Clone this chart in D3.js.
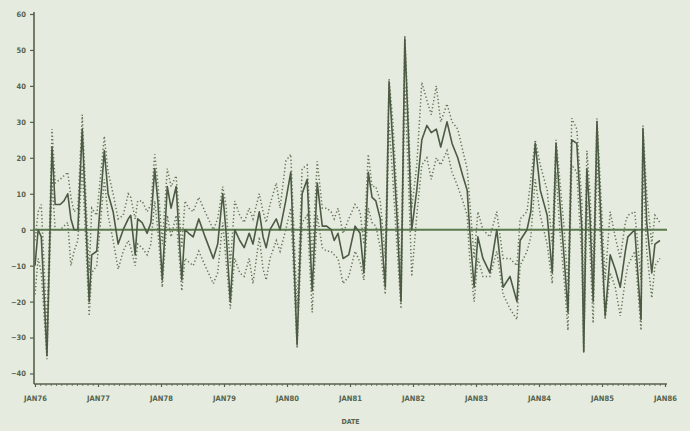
<!DOCTYPE html>
<html><head><meta charset="utf-8">
<script src="https://cdn.jsdelivr.net/npm/d3@7/dist/d3.min.js"></script>
<style>
body{margin:0;background:#e5ecdf;}
svg{display:block;}
text{font-family:"Liberation Sans Narrow","DejaVu Sans Condensed","Liberation Sans",sans-serif;font-weight:bold;fill:#56634e;}
</style></head>
<body><svg id="c" width="690" height="431"></svg>
<script>
// ---- data ----
const years = [1976.00,1976.05,1976.10,1976.19,1976.27,1976.32,1976.40,1976.46,1976.52,1976.57,1976.62,1976.68,1976.75,1976.86,1976.90,1976.98,
1977.10,1977.16,1977.24,1977.32,1977.40,1977.48,1977.52,1977.59,1977.63,1977.70,1977.78,1977.84,1977.90,1977.95,
1978.02,1978.10,1978.16,1978.24,1978.33,1978.38,1978.44,1978.51,1978.60,1978.70,1978.83,1978.90,1978.98,
1979.03,1979.10,1979.17,1979.25,1979.32,1979.40,1979.46,1979.56,1979.62,1979.67,1979.73,1979.83,1979.89,1979.98,
1980.06,1980.16,1980.24,1980.32,1980.40,1980.48,1980.56,1980.63,1980.70,1980.75,1980.81,1980.89,1980.98,
1981.08,1981.16,1981.22,1981.29,1981.35,1981.41,1981.48,1981.56,1981.62,1981.68,1981.75,1981.81,1981.87,1981.92,1981.98,
1982.06,1982.14,1982.22,1982.29,1982.37,1982.44,1982.54,1982.62,1982.71,1982.79,1982.86,1982.90,1982.97,
1983.03,1983.11,1983.22,1983.33,1983.43,1983.54,1983.65,1983.70,1983.81,1983.87,1983.94,
1984.02,1984.13,1984.21,1984.27,1984.33,1984.40,1984.46,1984.52,1984.60,1984.68,1984.71,1984.76,1984.81,1984.86,1984.92,1984.97,
1985.05,1985.13,1985.21,1985.29,1985.37,1985.41,1985.52,1985.62,1985.65,1985.71,1985.79,1985.84,1985.92];

const actual = [-10,0,-2,-35,23,7,7,8,10,3,0,0,28,-20,-7,-6,
22,10,5,-4,0,3,4,-7,3,2,-1,2,17,8,
-14,12,6,12,-14,0,-1,-2,3,-2,-8,-4,10,
0,-20,0,-3,-5,-1,-4,5,-2,-5,0,3,0,8,
16,-32,10,14,-17,13,1,1,0,-3,-1,-8,-7,
1,-1,-12,16,9,8,3,-16,41,24,2,-20,53,30,0,
11,25,29,27,28,23,30,24,20,15,11,0,-16,
-2,-8,-12,0,-16,-13,-20,-3,0,5,24,
11,4,-12,24,8,-8,-23,25,24,0,-34,17,3,-20,30,8,
-24,-7,-11,-16,-6,-2,0,-25,28,2,-12,-4,-3];

const upper = [-3,5,7,-28,28,13,14,15,16,9,5,6,32,-12,6,4,
26,16,10,3,4,10,9,3,8,8,5,7,21,13,
-4,17,12,15,-5,8,6,5,9,5,0,3,12,
7,-10,8,4,2,6,3,10,5,2,7,13,6,19,
21,-22,17,18,-8,19,6,6,5,3,6,-1,3,
7,5,-4,21,12,12,8,-8,42,30,8,-12,54,34,6,
18,41,36,32,40,30,35,30,28,22,17,8,-8,
5,0,-2,5,-8,-8,-10,3,5,14,25,
18,11,-4,25,14,0,-16,31,28,8,-22,22,10,-12,31,14,
-14,5,-2,-8,2,4,5,-14,29,10,-4,4,2];

const lower = [-18,-8,-12,-36,14,0,0,1,2,-10,-6,-3,18,-24,-12,-10,
14,4,-3,-11,-6,-3,-5,-10,-4,-5,-7,-4,8,0,
-16,4,-2,4,-17,-8,-9,-10,-6,-10,-15,-12,2,
-8,-22,-8,-12,-13,-8,-15,-2,-11,-14,-8,-3,-6,0,
6,-33,2,4,-23,4,-5,-6,-6,-7,-8,-15,-13,
-6,-9,-14,6,2,1,-5,-18,30,14,-6,-22,40,18,-13,
4,18,20,14,20,18,22,16,12,8,4,-8,-20,
-8,-13,-13,-6,-18,-22,-25,-10,-6,-2,14,
4,-4,-15,16,0,-14,-28,18,16,-8,-34,8,-6,-26,20,0,
-25,-12,-16,-24,-14,-10,-6,-28,18,-6,-19,-10,-8];

const yTicks = [60,50,40,30,20,10,0,-10,-20,-30,-40];
const xTickYears = [1976,1977,1978,1979,1980,1981,1982,1983,1984,1985,1986];
const xTickLabels = ["JAN76","JAN77","JAN78","JAN79","JAN80","JAN81","JAN82","JAN83","JAN84","JAN85","JAN86"];
const xTitle = "DATE";

// ---- layout ----
const svg = d3.select("#c");
const axisX = 34, axisTop = 12, axisBottom = 384, axisRight = 667;
const x = d3.scaleLinear().domain([1976,1986]).range([35,665]);
const y = d3.scaleLinear().domain([-40,60]).range([373.5,14]);
const ink = "#55624c";

svg.append("rect").attr("width",690).attr("height",431).attr("fill","#e5ecdf");

// axes
const ya = svg.append("g").attr("transform",`translate(${axisX},0)`)
  .call(d3.axisLeft(y).tickValues(yTicks).tickSize(4).tickPadding(4).tickFormat(d3.format("d")));
ya.select(".domain").remove();
ya.selectAll("line").attr("stroke",ink).attr("stroke-width",1.2);
ya.selectAll("text").attr("font-size",7.5).style("font-family",null);

const xm = svg.append("g").attr("transform",`translate(0,${axisBottom})`)
  .call(d3.axisBottom(x).tickValues(d3.range(0,121).map(i=>1976+i/12)).tickSize(2).tickFormat(""));
xm.select(".domain").remove();
xm.selectAll("line").attr("stroke",ink).attr("stroke-width",0.8);

const xa = svg.append("g").attr("transform",`translate(0,${axisBottom})`)
  .call(d3.axisBottom(x).tickValues(xTickYears).tickSize(3).tickPadding(9).tickFormat((d,i)=>xTickLabels[i]));
xa.select(".domain").remove();
xa.selectAll("line").attr("stroke",ink).attr("stroke-width",1.2);
xa.selectAll("text").attr("font-size",7.5);

svg.append("line").attr("x1",axisX).attr("x2",axisX).attr("y1",axisTop).attr("y2",axisBottom)
  .attr("stroke",ink).attr("stroke-width",1.6);
svg.append("line").attr("x1",axisX).attr("x2",axisRight).attr("y1",axisBottom).attr("y2",axisBottom)
  .attr("stroke",ink).attr("stroke-width",1.6);

svg.append("text").attr("x",(axisX+axisRight)/2).attr("y",424).attr("text-anchor","middle")
  .attr("font-size",7).text(xTitle);

// zero reference line
svg.append("line").attr("x1",axisX).attr("x2",x(1986)+2).attr("y1",y(0)).attr("y2",y(0))
  .attr("stroke","#5a7a4d").attr("stroke-width",2);

// series
const line = d3.line().x(d=>x(d[0])).y(d=>y(d[1]));
const mk = arr => years.map((t,i)=>[t,arr[i]]);
svg.append("path").attr("d",line(mk(upper))).attr("fill","none").attr("stroke","#667459")
  .attr("stroke-width",1.5).attr("stroke-dasharray","1.3,2.3");
svg.append("path").attr("d",line(mk(lower))).attr("fill","none").attr("stroke","#667459")
  .attr("stroke-width",1.5).attr("stroke-dasharray","1.3,2.3");
svg.append("path").attr("d",line(mk(actual))).attr("fill","none").attr("stroke","#4d5a44")
  .attr("stroke-width",1.6).attr("stroke-linejoin","round");
</script></body></html>
